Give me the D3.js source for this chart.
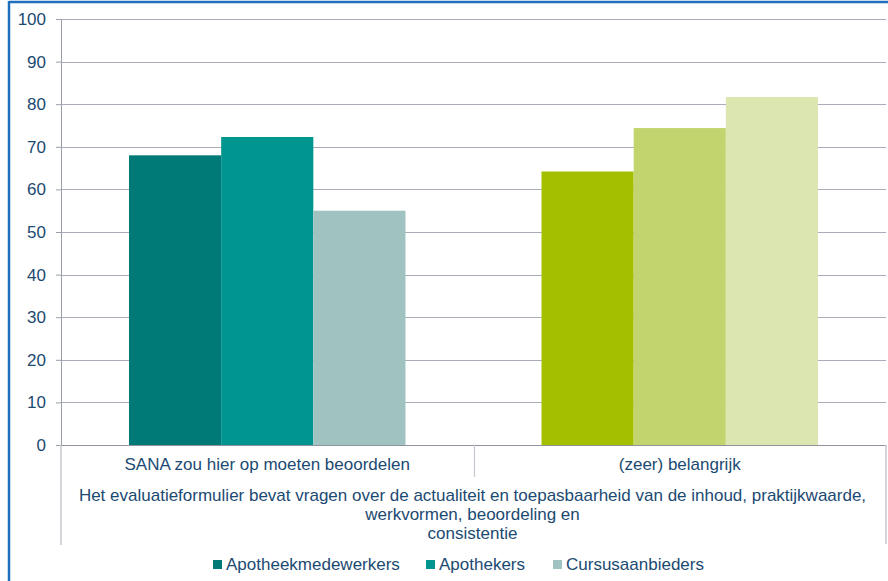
<!DOCTYPE html>
<html>
<head>
<meta charset="utf-8">
<script src="https://cdn.jsdelivr.net/npm/d3@7"></script>
<style>
  html, body { margin: 0; padding: 0; background: #fff; }
  svg { display: block; font-family: "Liberation Sans", Arial, sans-serif; }
</style>
</head>
<body>
<svg id="chart" width="888" height="581"></svg>
<script>
// Answer categories (inner axis level)
const categories = ["SANA zou hier op moeten beoordelen", "(zeer) belangrijk"];
// Outer axis level, already broken into lines
const groupLabelLines = [
  "Het evaluatieformulier bevat vragen over de actualiteit en toepasbaarheid van de inhoud, praktijkwaarde,",
  "werkvormen, beoordeling en",
  "consistentie"
];
// Respondent groups (series)
const series = ["Apotheekmedewerkers", "Apothekers", "Cursusaanbieders"];
// Percentages per category, one array per series
const apotheekmedewerkers = [68, 64.2];
const apothekers = [72.3, 74.4];
const cursusaanbieders = [55, 81.7];
const seriesValues = [apotheekmedewerkers, apothekers, cursusaanbieders];
// Bar fill per category and series
const tealColors = ["#007a76", "#00958f", "#a0c3c2"];
const greenColors = ["#a3bf00", "#c2d46e", "#dce6b0"];
const categoryColors = [tealColors, greenColors];
const yTicks = [0, 10, 20, 30, 40, 50, 60, 70, 80, 90, 100];

const textColor = "#1b4a72";
const svg = d3.select("#chart");

const plot = { left: 61, right: 886, top: 19, bottom: 445 };

// Frame
svg.append("line").attr("x1", 9).attr("x2", 888).attr("y1", 2).attr("y2", 2)
  .attr("stroke", "#1e6fbe").attr("stroke-width", 2.5);
svg.append("line").attr("x1", 9).attr("x2", 9).attr("y1", 1).attr("y2", 581)
  .attr("stroke", "#1e6fbe").attr("stroke-width", 2.5);

const y = d3.scaleLinear().domain([0, 100]).range([plot.bottom, plot.top]);
const x0 = d3.scaleBand().domain(categories).range([plot.left, plot.right]).paddingInner(0).paddingOuter(0);
const innerPad = 68;
const x1 = d3.scaleBand().domain(series)
  .range([innerPad, x0.bandwidth() - innerPad]).padding(0);

// Gridlines
svg.append("g").selectAll("line").data(yTicks.filter(t => t > 0)).join("line")
  .attr("x1", plot.left).attr("x2", plot.right)
  .attr("y1", d => Math.round(y(d)) + 0.5).attr("y2", d => Math.round(y(d)) + 0.5)
  .attr("stroke", "#a9acb8").attr("stroke-width", 1.2);

// Y axis
const yAxis = d3.axisLeft(y).tickValues(yTicks).tickSize(5).tickPadding(10).tickSizeOuter(0);
const ya = svg.append("g").attr("transform", `translate(${plot.left},0)`).call(yAxis);
ya.select(".domain").attr("stroke", "#9a9ea8");
ya.selectAll(".tick line").attr("stroke", "#9a9ea8");
ya.selectAll(".tick text").attr("fill", textColor).style("font-size", "17px")
  .attr("font-family", "Liberation Sans, Arial, sans-serif");

// Bars
const groups = svg.append("g").selectAll("g").data(categories).join("g")
  .attr("transform", d => `translate(${x0(d)},0)`);
groups.selectAll("rect")
  .data((c, ci) => series.map((s, si) => ({ s, ci, si, v: seriesValues[si][ci] })))
  .join("rect")
  .attr("x", d => x1(d.s))
  .attr("width", x1.bandwidth())
  .attr("y", d => y(d.v))
  .attr("height", d => y(0) - y(d.v))
  .attr("fill", d => categoryColors[d.ci][d.si]);

// X axis baseline
svg.append("line").attr("x1", plot.left).attr("x2", plot.right)
  .attr("y1", plot.bottom + 0.5).attr("y2", plot.bottom + 0.5)
  .attr("stroke", "#8f939e").attr("stroke-width", 1.2);

// Multi-level category dividers
const divColor = "#c4c7cf";
svg.append("line").attr("x1", plot.left).attr("x2", plot.left)
  .attr("y1", plot.bottom).attr("y2", 545).attr("stroke", divColor).attr("stroke-width", 1.5);
svg.append("line").attr("x1", plot.right).attr("x2", plot.right)
  .attr("y1", plot.bottom).attr("y2", 544).attr("stroke", divColor).attr("stroke-width", 1.5);
categories.slice(1).forEach(c => {
  const xv = Math.round(x0(c)) + 0.5;
  svg.append("line").attr("x1", xv).attr("x2", xv)
    .attr("y1", plot.bottom).attr("y2", 477).attr("stroke", divColor).attr("stroke-width", 1.2);
});

// Category labels
svg.append("g").selectAll("text").data(categories).join("text")
  .attr("x", d => x0(d) + x0.bandwidth() / 2)
  .attr("y", 470)
  .attr("text-anchor", "middle")
  .attr("fill", textColor)
  .style("font-size", "17px")
  .text(d => d);

// Outer group label
const gx = (plot.left + plot.right) / 2 - 1;
svg.append("g").selectAll("text").data(groupLabelLines).join("text")
  .attr("x", gx)
  .attr("y", (d, i) => 501 + i * 19)
  .attr("text-anchor", "middle")
  .attr("fill", textColor)
  .style("font-size", "17px")
  .text(d => d);

// Legend
const legendX = [213, 426, 553];
const legend = svg.append("g").selectAll("g").data(series).join("g")
  .attr("transform", (d, i) => `translate(${legendX[i]},560)`);
legend.append("rect").attr("width", 9).attr("height", 9)
  .attr("fill", (d, i) => tealColors[i]);
legend.append("text").attr("x", 13).attr("y", 9.5)
  .attr("fill", textColor).style("font-size", "17px").text(d => d);
</script>
</body>
</html>
